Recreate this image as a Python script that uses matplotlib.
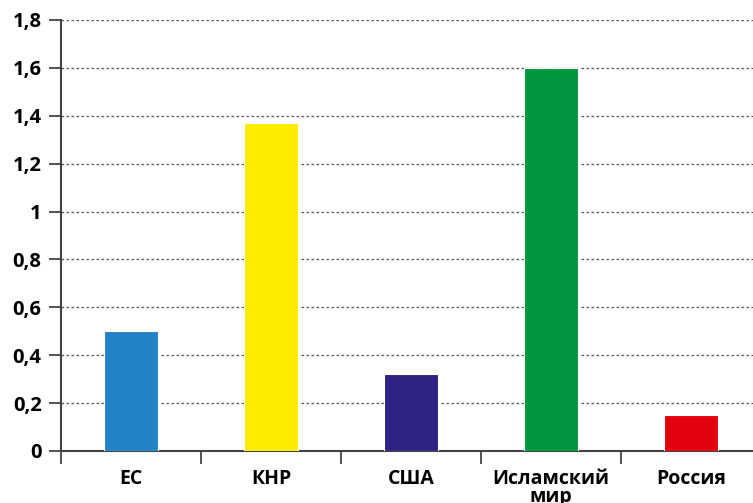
import numpy as np
import matplotlib
matplotlib.use("Agg")
import matplotlib.pyplot as plt

categories = ["ЕС", "КНР", "США", "Исламский\nмир", "Россия"]
values = [0.50, 1.37, 0.32, 1.60, 0.15]
colors = ["#2383c6", "#ffed00", "#2e2382", "#00963f", "#e3000f"]
yticks = [0, 0.2, 0.4, 0.6, 0.8, 1.0, 1.2, 1.4, 1.6, 1.8]
ytick_labels = ["0", "0,2", "0,4", "0,6", "0,8", "1", "1,2", "1,4", "1,6", "1,8"]

plt.rcParams["font.family"] = ["Open Sans", "DejaVu Sans"]
plt.rcParams["font.weight"] = "bold"

fig = plt.figure(figsize=(7.53, 5.03), dpi=100)
ax = fig.add_axes([61 / 753, 52 / 503, 1 - 61 / 753, (451 - 20) / 503])

x = np.arange(len(categories))
ax.bar(x, values, width=0.39, color=colors, edgecolor="white", linewidth=0.8, zorder=3)

ax.set_xlim(-0.5, 4.443)
ax.set_ylim(0, 1.8)
ax.set_yticks(yticks)
ax.set_yticklabels(ytick_labels, fontsize=14.5, fontweight="bold")
ax.set_xticks(x)
ax.set_xticklabels(categories, fontsize=14, fontweight="bold", linespacing=0.85)
ax.set_xticks(np.arange(-0.5, 4.5, 1), minor=True)
ax.tick_params(axis="x", which="major", length=0, pad=13)
ax.tick_params(axis="x", which="minor", length=9, width=1.3, color="#444444", direction="out")
ax.tick_params(axis="y", length=9, width=1.3, color="#444444", pad=5)

for v in yticks[1:]:
    ax.axhline(v, color="#555555", linestyle=(0, (2, 2)), linewidth=0.9, zorder=1)

for side in ["top", "right"]:
    ax.spines[side].set_visible(False)
for side in ["left", "bottom"]:
    ax.spines[side].set_color("#444444")
    ax.spines[side].set_linewidth(1.5)

fig.savefig("out.png", dpi=100)
